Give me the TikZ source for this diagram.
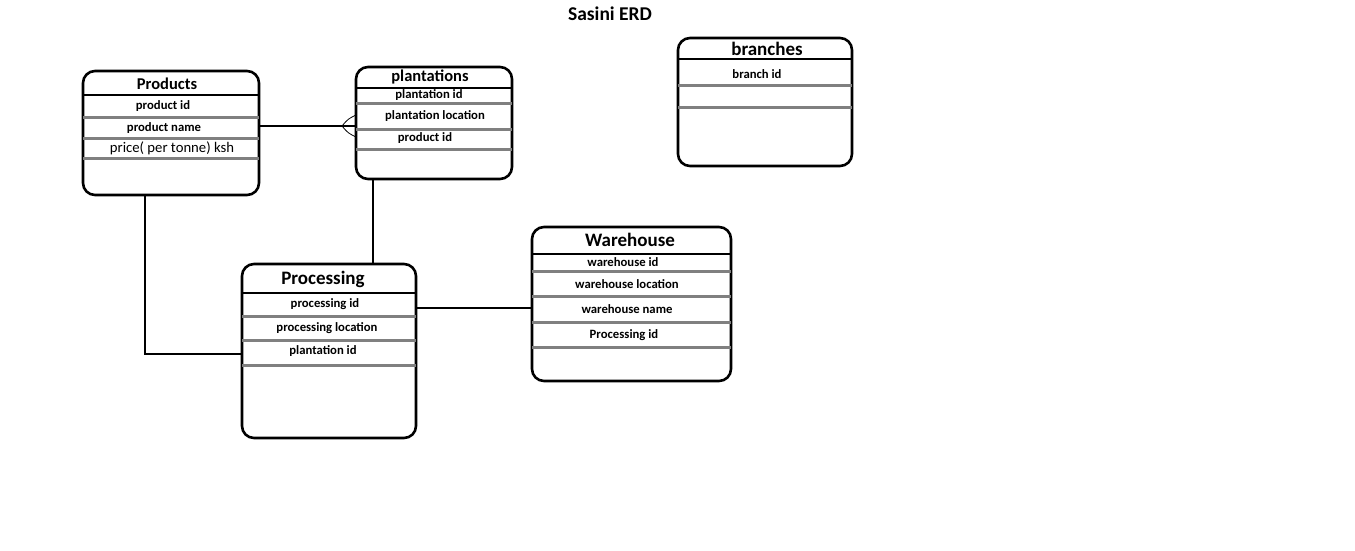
\documentclass[tikz,border=0pt]{standalone}
\usepackage{fontspec}
\setmainfont{Carlito}
\begin{document}
\begin{tikzpicture}[x=1pt,y=-1pt,
  entity/.style={draw=black, line width=2.6pt, rounded corners=12pt, anchor=north west, inner sep=0pt, outer sep=0pt},
  hdr/.style={draw=black, line width=2.6pt},
  sep/.style={draw=black!50, line width=3pt},
  conn/.style={draw=black, line width=2.6pt},
  crow/.style={draw=black, line width=0.8pt},
  ttl/.style={font=\bfseries\fontsize{16.5}{18}\selectfont, inner sep=0pt},
  bigttl/.style={font=\bfseries\fontsize{19}{21}\selectfont, inner sep=0pt},
  fld/.style={font=\bfseries\fontsize{12.7}{14}\selectfont, inner sep=0pt},
  fldr/.style={font=\fontsize{14.7}{16}\selectfont, inner sep=0pt}]
\useasboundingbox (0,0) rectangle (1355,550);
\fill[white] (0,0) rectangle (1355,550);

\node[font=\bfseries\fontsize{19.5}{21}\selectfont, inner sep=0pt] (title) at (610,14) {Sasini ERD};

% Products
\node[entity, minimum width=176pt, minimum height=124pt] (prod) at (83,71) {};
\draw[hdr] (prod.west |- 0,95) -- (prod.east |- 0,95);
\draw[sep] (prod.west |- 0,117) -- (prod.east |- 0,117);
\draw[sep] (prod.west |- 0,138) -- (prod.east |- 0,138);
\draw[sep] (prod.west |- 0,158) -- (prod.east |- 0,158);
\node[ttl] (prodt) at (167,84) {Products};
\node[fld] (prod1) at (163,106) {product id};
\node[fld] (prod2) at (164,128) {product name};
\node[fldr] (prod3) at (172,148) {price( per tonne) ksh};

% plantations
\node[entity, minimum width=156pt, minimum height=112pt] (plant) at (356,67) {};
\draw[hdr] (plant.west |- 0,88) -- (plant.east |- 0,88);
\draw[sep] (plant.west |- 0,103) -- (plant.east |- 0,103);
\draw[sep] (plant.west |- 0,129) -- (plant.east |- 0,129);
\draw[sep] (plant.west |- 0,149) -- (plant.east |- 0,149);
\node[ttl] (plantt) at (430,77) {plantations};
\node[fld] (plant1) at (429,95) {plantation id};
\node[fld] (plant2) at (435,116) {plantation location};
\node[fld] (plant3) at (425,138) {product id};

% branches
\node[entity, minimum width=174pt, minimum height=128pt] (br) at (678,38) {};
\draw[hdr] (br.west |- 0,59) -- (br.east |- 0,59);
\draw[sep] (br.west |- 0,85) -- (br.east |- 0,85);
\draw[sep] (br.west |- 0,107) -- (br.east |- 0,107);
\node[bigttl] (brt) at (767,49) {branches};
\node[fld] (br1) at (757,74) {branch id};

% Processing
\node[entity, minimum width=174pt, minimum height=174pt] (proc) at (242,264) {};
\draw[hdr] (proc.west |- 0,293) -- (proc.east |- 0,293);
\draw[sep] (proc.west |- 0,316) -- (proc.east |- 0,316);
\draw[sep] (proc.west |- 0,340) -- (proc.east |- 0,340);
\draw[sep] (proc.west |- 0,365) -- (proc.east |- 0,365);
\node[bigttl] (proct) at (323,279) {Processing};
\node[fld] (proc1) at (325,304) {processing id};
\node[fld] (proc2) at (327,328) {processing location};
\node[fld] (proc3) at (323,351) {plantation id};

% Warehouse
\node[entity, minimum width=199pt, minimum height=154pt] (wh) at (532,227) {};
\draw[hdr] (wh.west |- 0,254) -- (wh.east |- 0,254);
\draw[sep] (wh.west |- 0,271) -- (wh.east |- 0,271);
\draw[sep] (wh.west |- 0,296) -- (wh.east |- 0,296);
\draw[sep] (wh.west |- 0,322) -- (wh.east |- 0,322);
\draw[sep] (wh.west |- 0,347) -- (wh.east |- 0,347);
\node[bigttl] (wht) at (630,240) {Warehouse};
\node[fld] (wh1) at (623,262) {warehouse id};
\node[fld] (wh2) at (627,284) {warehouse location};
\node[fld] (wh3) at (627,309) {warehouse name};
\node[fld] (wh4) at (624,335) {Processing id};

% connectors
\coordinate (cf) at (342,126);
\draw[conn] (prod.east |- 0,126) -- (plant.west |- 0,126);
\draw[crow] (cf) .. controls (348,119) .. (plant.west |- 0,115);
\draw[crow] (cf) .. controls (348,133) .. (plant.west |- 0,137);
\draw[conn] (plant.south -| 373,0) -- (proc.north -| 373,0);
\draw[conn] (prod.south -| 145,0) -- (145,354) -- (proc.west |- 0,354);
\draw[conn] (proc.east |- 0,308) -- (wh.west |- 0,308);
\end{tikzpicture}
\end{document}
